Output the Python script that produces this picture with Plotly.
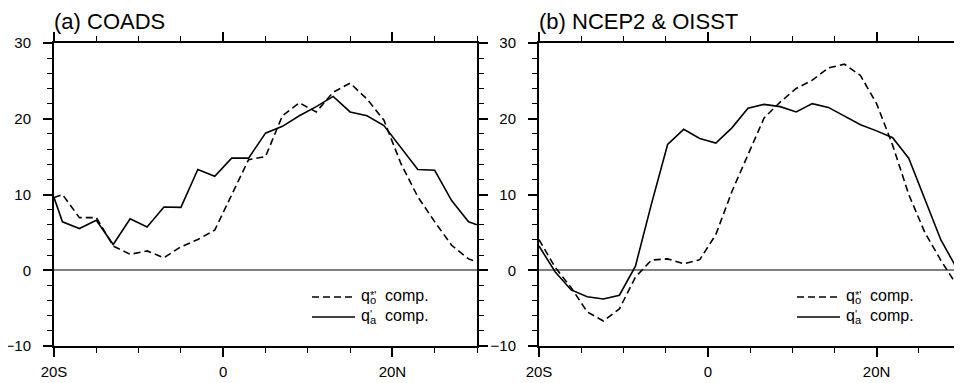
import plotly.graph_objects as go

W, H = 962, 383

# ---------------- data ----------------
# (a) COADS, 2-degree grid (edge values at 20S / 30N)
lat_a = [-20, -19, -17, -15, -13, -11, -9, -7, -5, -3, -1, 1, 3, 5, 7, 9, 11,
         13, 15, 17, 19, 21, 23, 25, 27, 29, 30]
qo_a = [9.6, 10.0, 6.95, 6.95, 3.2, 2.1, 2.55, 1.65, 3.1, 4.05, 5.3, 10.0, 14.6,
        15.0, 20.4, 22.1, 20.9, 23.5, 24.7, 22.6, 19.8, 14.1, 9.7, 6.4, 3.3, 1.5, 1.1]
qa_a = [9.6, 6.4, 5.5, 6.6, 3.4, 6.8, 5.7, 8.35, 8.3, 13.3, 12.4, 14.8, 14.8,
        18.1, 19.0, 20.4, 21.6, 22.95, 20.9, 20.4, 19.1, 16.2, 13.3, 13.2, 9.2, 6.4, 6.0]

# (b) NCEP2 & OISST, Gaussian grid latitudes
lat_b = [-19.998, -18.094, -16.189, -14.284, -12.380, -10.475, -8.571, -6.666,
         -4.761, -2.857, -0.952, 0.952, 2.857, 4.761, 6.666, 8.571, 10.475,
         12.380, 14.284, 16.189, 18.094, 19.998, 21.903, 23.807, 25.712,
         27.617, 29.521, 31.426]
qo_b = [4.05, 0.4, -2.3, -5.5, -6.7, -5.1, -0.9, 1.35, 1.5, 0.85, 1.4, 4.7, 10.4,
        15.2, 20.1, 22.2, 24.0, 25.1, 26.7, 27.2, 25.7, 22.0, 16.5, 10.0, 5.0,
        1.3, -2.0, -3.6]
qa_b = [3.2, -0.2, -2.6, -3.5, -3.8, -3.3, 0.55, 8.8, 16.6, 18.6, 17.4, 16.8, 18.8,
        21.4, 21.9, 21.6, 20.9, 22.0, 21.5, 20.4, 19.2, 18.4, 17.5, 14.8, 9.5,
        4.0, 0.2, -0.6]

x_tickvals = [-20, 0, 20]
x_ticktext = ["20S", "0", "20N"]
y_tickvals = [-10, 0, 10, 20, 30]
panel_titles = ["(a) COADS", "(b) NCEP2 & OISST"]
legend_main = ["q<sub>o</sub>  comp.", "q<sub>a</sub>  comp."]
legend_sup = ["*'", "'"]

# ---------------- style ----------------
FONT = "Liberation Sans, Arial, Helvetica, sans-serif"
DASH = "7px,4px"
LW = 1.6
OFF = 8  # page body margin offset of the plot div

def px_x(p):
    return (p - OFF) / W

def px_y(p):
    return 1 - (p - OFF) / H

panels = [
    dict(x0=54, x1=477, lat=lat_a, qo=qo_a, qa=qa_a, ax="x", ay="y"),
    dict(x0=539, x1=961, lat=lat_b, qo=qo_b, qa=qa_b, ax="x2", ay="y2"),
]
Y_TOP, Y_BOT = 43, 346

fig = go.Figure()
shapes = []
annotations = []

for i, p in enumerate(panels):
    fig.add_trace(go.Scatter(x=p["lat"], y=p["qo"], mode="lines",
                             line=dict(color="black", width=LW, dash=DASH),
                             xaxis=p["ax"], yaxis=p["ay"], showlegend=False,
                             hoverinfo="skip"))
    fig.add_trace(go.Scatter(x=p["lat"], y=p["qa"], mode="lines",
                             line=dict(color="black", width=LW),
                             xaxis=p["ax"], yaxis=p["ay"], showlegend=False,
                             hoverinfo="skip"))

    suffix = "" if i == 0 else "2"
    xa = dict(domain=[px_x(p["x0"]), px_x(p["x1"])], range=[-20, 30],
              tickmode="array", tickvals=x_tickvals, ticktext=x_ticktext,
              ticks="outside", ticklen=9, tickwidth=1.5, tickcolor="black",
              minor=dict(dtick=5, tick0=-20, ticks="outside", ticklen=5,
                         tickwidth=1.3, tickcolor="black", showgrid=False),
              showline=True, linewidth=2, linecolor="black", mirror="ticks",
              showgrid=False, zeroline=False, ticklabelstandoff=2,
              automargin=False,
              tickfont=dict(family=FONT, size=15, color="black"),
              anchor="y" + suffix)
    ya = dict(domain=[px_y(Y_BOT), px_y(Y_TOP)], range=[-10, 30],
              tickmode="array", tickvals=y_tickvals,
              ticks="outside", ticklen=9, tickwidth=1.5, tickcolor="black",
              minor=dict(dtick=2, tick0=0, ticks="outside", ticklen=5,
                         tickwidth=1.3, tickcolor="black", showgrid=False),
              showline=True, linewidth=2, linecolor="black", mirror="ticks",
              showgrid=False, zeroline=True, zerolinecolor="#808080",
              zerolinewidth=1.6, ticklabelstandoff=9, automargin=False,
              tickfont=dict(family=FONT, size=15, color="black"),
              anchor="x" + suffix)
    fig.update_layout(**{"xaxis" + suffix: xa, "yaxis" + suffix: ya})

    # title
    annotations.append(dict(text=panel_titles[i], xref="paper", yref="paper",
                            x=px_x(p["x0"] - 2), y=px_y(22), xanchor="left",
                            yanchor="middle", showarrow=False,
                            font=dict(family=FONT, size=22, color="black")))

    # legend (manual)
    L = p["x0"] + 258
    rows = [297, 317]
    sup_dy = [-2.5, -3.5]
    for r, yrow in enumerate(rows):
        shapes.append(dict(type="line", xref="paper", yref="paper",
                           x0=px_x(L), x1=px_x(L + 43), y0=px_y(yrow), y1=px_y(yrow),
                           line=dict(color="black", width=LW,
                                     dash=DASH if r == 0 else "solid")))
        annotations.append(dict(text=legend_main[r], xref="paper", yref="paper",
                                x=px_x(L + 47), y=px_y(yrow - 1), xanchor="left",
                                yanchor="middle", showarrow=False,
                                font=dict(family=FONT, size=16, color="black")))
        annotations.append(dict(text=legend_sup[r], xref="paper", yref="paper",
                                x=px_x(L + 56), y=px_y(yrow + sup_dy[r]), xanchor="left",
                                yanchor="middle", showarrow=False,
                                font=dict(family=FONT, size=11, color="black")))

fig.update_layout(width=W, height=H, margin=dict(l=0, r=0, t=0, b=0),
                  paper_bgcolor="white", plot_bgcolor="white",
                  shapes=shapes, annotations=annotations, showlegend=False)

fig.write_html("out.html")
